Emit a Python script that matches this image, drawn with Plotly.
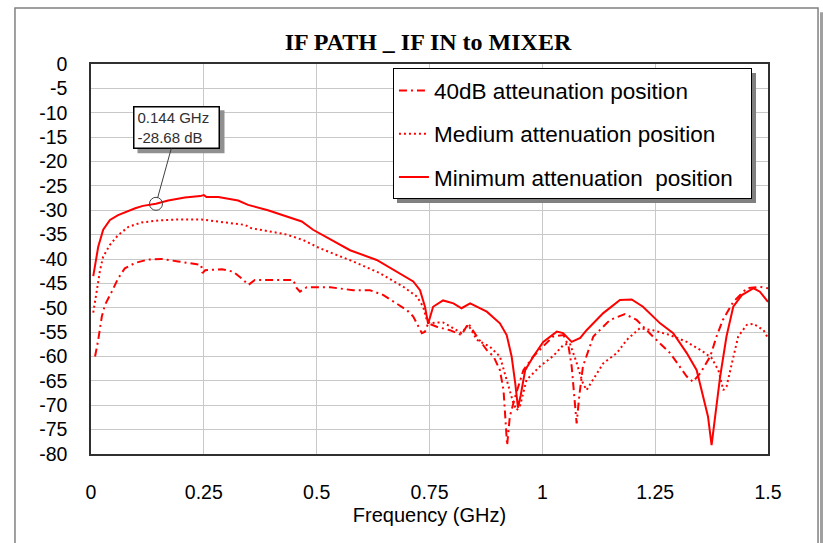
import plotly.graph_objects as go

# Minimum attenuation position (solid)
freq_min = [0.005, 0.009, 0.016, 0.027, 0.042, 0.06, 0.08, 0.098, 0.115, 0.134, 0.144, 0.171,
            0.208, 0.242, 0.25, 0.256, 0.282, 0.326, 0.348, 0.392, 0.43, 0.467, 0.492, 0.525,
            0.574, 0.633, 0.692, 0.714, 0.729, 0.74, 0.747, 0.758, 0.78, 0.803, 0.821, 0.84,
            0.877, 0.906, 0.921, 0.932, 0.94, 0.946, 0.952, 0.962, 0.98, 1.002, 1.032, 1.046,
            1.065, 1.084, 1.098, 1.135, 1.172, 1.198, 1.223, 1.261, 1.29, 1.32, 1.342, 1.356,
            1.367, 1.375, 1.383, 1.394, 1.408, 1.423, 1.442, 1.468, 1.482, 1.5]
db_min = [-43.5, -41.0, -37.5, -34.0, -32.0, -31.0, -30.2, -29.6, -29.1, -28.8, -28.68, -28.0,
          -27.4, -27.1, -26.9, -27.3, -27.3, -28.0, -28.9, -30.0, -31.2, -32.3, -34.0, -35.7,
          -38.2, -40.2, -43.3, -44.6, -46.4, -49.8, -53.3, -49.8, -48.5, -49.1, -50.1, -49.1,
          -50.8, -53.2, -55.6, -60.0, -65.5, -70.5, -68.0, -62.8, -60.0, -57.0, -54.9, -55.2,
          -57.0, -56.2, -54.6, -51.1, -48.4, -48.3, -49.8, -53.2, -55.2, -59.3, -62.8, -68.2,
          -72.3, -78.2, -72.3, -64.1, -55.9, -49.8, -47.4, -46.0, -46.7, -48.8]

# Medium attenuation position (dotted)
freq_med = [0.005, 0.009, 0.013, 0.02, 0.027, 0.042, 0.06, 0.083, 0.112, 0.149, 0.193, 0.245,
            0.297, 0.341, 0.356, 0.397, 0.43, 0.47, 0.507, 0.545, 0.581, 0.64, 0.692, 0.722,
            0.736, 0.744, 0.751, 0.766, 0.78, 0.803, 0.821, 0.836, 0.855, 0.884, 0.906, 0.921,
            0.936, 0.943, 0.95, 0.965, 0.995, 1.024, 1.047, 1.061, 1.075, 1.09, 1.098, 1.135,
            1.165, 1.187, 1.216, 1.245, 1.283, 1.32, 1.356, 1.375, 1.39, 1.401, 1.408, 1.42,
            1.434, 1.453, 1.468, 1.49, 1.5]
db_med = [-51.0, -49.0, -46.4, -42.3, -39.5, -37.1, -35.1, -33.4, -32.5, -32.1, -31.9, -31.9,
          -32.5, -33.0, -33.7, -34.4, -34.9, -36.1, -37.8, -39.2, -40.5, -42.9, -45.7, -47.7,
          -49.8, -52.5, -53.2, -53.0, -53.0, -54.2, -55.2, -53.5, -56.6, -58.0, -60.0, -64.8,
          -69.6, -71.0, -70.3, -64.8, -62.0, -59.9, -57.6, -57.3, -61.0, -65.5, -66.9, -61.4,
          -59.3, -56.6, -54.2, -54.6, -55.6, -57.0, -59.0, -60.3, -62.8, -66.9, -66.2, -61.4,
          -55.9, -53.5, -53.3, -54.6, -56.2]

# 40dB atteunation position (dash-dot)
freq_40 = [0.009, 0.016, 0.024, 0.031, 0.046, 0.06, 0.075, 0.098, 0.127, 0.157, 0.193, 0.23,
           0.244, 0.247, 0.253, 0.29, 0.315, 0.334, 0.349, 0.363, 0.43, 0.448, 0.456, 0.463,
           0.478, 0.53, 0.581, 0.618, 0.648, 0.677, 0.7, 0.714, 0.725, 0.733, 0.74, 0.747,
           0.766, 0.795, 0.821, 0.836, 0.855, 0.877, 0.892, 0.906, 0.914, 0.917, 0.921, 0.922,
           0.928, 0.94, 0.958, 0.98, 1.002, 1.024, 1.047, 1.058, 1.065, 1.072, 1.076, 1.082,
           1.09, 1.113, 1.15, 1.183, 1.209, 1.245, 1.283, 1.32, 1.334, 1.35, 1.372, 1.386,
           1.4, 1.423, 1.453, 1.482, 1.5]
db_40 = [-60.0, -56.6, -51.8, -49.4, -46.7, -44.0, -41.9, -40.8, -40.1, -40.0, -40.5, -40.9,
         -41.2, -42.9, -42.3, -42.1, -42.6, -44.0, -45.3, -44.3, -44.3, -44.3, -46.0, -46.7,
         -45.8, -45.8, -46.4, -46.4, -47.4, -49.1, -50.5, -51.8, -53.9, -55.2, -54.9, -53.2,
         -53.9, -54.6, -55.6, -53.2, -55.9, -58.7, -60.0, -62.8, -66.9, -71.0, -75.8, -78.2,
         -72.3, -68.2, -62.8, -60.0, -57.9, -55.9, -55.6, -57.9, -62.0, -69.6, -73.7, -68.0,
         -62.0, -55.9, -52.5, -51.3, -52.5, -55.9, -59.3, -64.1, -65.2, -63.4, -60.0, -55.9,
         -52.5, -48.8, -46.0, -45.7, -46.0]

x_ticks = [0, 0.25, 0.5, 0.75, 1, 1.25, 1.5]
x_tick_text = ['0', '0.25', '0.5', '0.75', '1', '1.25', '1.5']
y_ticks = list(range(0, -85, -5))
y_tick_text = [str(v) for v in y_ticks]

marker_f = 0.144
marker_db = -28.68

RED = '#ff0000'
SANS = 'Arial, Liberation Sans, sans-serif'

fig = go.Figure()

fig.add_trace(go.Scatter(
    x=freq_40, y=db_40, mode='lines',
    name='40dB atteunation position', legendgroup='a',
    line=dict(color=RED, width=2, dash='8px,4px,2px,4px')
))
fig.add_trace(go.Scatter(
    x=freq_med, y=db_med, mode='lines',
    name='Medium attenuation position', legendgroup='b',
    line=dict(color=RED, width=2, dash='2px,3px')
))
fig.add_trace(go.Scatter(
    x=freq_min, y=db_min, mode='lines',
    name='Minimum attenuation\u00a0 position\u00a0\u00a0', legendgroup='c',
    line=dict(color=RED, width=2)
))
fig.add_trace(go.Scatter(
    x=[marker_f], y=[marker_db], mode='markers', showlegend=False,
    marker=dict(symbol='circle-open', size=13, color='#404040', line=dict(width=1))
))

fig.add_annotation(
    x=marker_f, y=marker_db,
    text='0.144 GHz<br>-28.68 dB',
    showarrow=True, arrowhead=0, arrowwidth=1, arrowcolor='#404040',
    ax=21, ay=-76, standoff=6,
    bordercolor='black', borderwidth=1.5, borderpad=3, bgcolor='white',
    width=78, height=34, align='left',
    font=dict(family=SANS, size=15, color='#303030')
)

shapes = [
    # outer chart frame
    dict(type='rect', xref='paper', yref='paper', x0=-0.1123, x1=1.0739, y0=-0.3, y1=1.1436,
         line=dict(color='#808080', width=1.5)),
    # frame shadow
    dict(type='rect', xref='paper', yref='paper', x0=1.0768, x1=1.085, y0=-0.3, y1=1.133,
         fillcolor='#a0a0a0', line=dict(width=0)),
    # legend shadow
    dict(type='rect', xref='paper', yref='paper', x0=0.452, x1=0.9823, y0=0.6436, y1=0.977,
         fillcolor='#808080', line=dict(width=0), layer='above'),
    # marker label shadow
    dict(type='rect', xref='x', yref='y', xsizemode='pixel', ysizemode='pixel',
         xanchor=marker_f, yanchor=marker_db, x0=-18.5, x1=68.5, y0=50.5, y1=93.5,
         fillcolor='#909090', line=dict(width=0), layer='above'),
]

fig.update_layout(
    width=823, height=543,
    margin=dict(l=91, r=55, t=64, b=89),
    paper_bgcolor='white', plot_bgcolor='white',
    title=dict(text='<b>IF PATH _ IF IN to MIXER</b>',
               font=dict(family='Liberation Serif, Times New Roman, serif', size=24, color='black'),
               x=0.52, xref='container', y=0.923, yref='container',
               xanchor='center', yanchor='middle'),
    xaxis=dict(range=[0, 1.5], tickvals=x_ticks, ticktext=x_tick_text,
               showgrid=True, gridcolor='#c8c8c8', gridwidth=1, zeroline=False,
               showline=True, linecolor='#303030', linewidth=1.5, mirror=True,
               ticks='', ticklabelstandoff=20,
               tickfont=dict(family=SANS, size=19.5, color='black'),
               title=dict(text='Frequency (GHz)', standoff=6,
                          font=dict(family=SANS, size=20, color='black'))),
    yaxis=dict(range=[-80, 0], tickvals=y_ticks, ticktext=y_tick_text,
               showgrid=True, gridcolor='#c8c8c8', gridwidth=1, zeroline=False,
               showline=True, linecolor='#303030', linewidth=1.5, mirror=True,
               ticks='', ticklabelstandoff=18,
               tickfont=dict(family=SANS, size=19.5, color='black')),
    legend=dict(x=0.446, y=0.989, xanchor='left', yanchor='top',
                bordercolor='black', borderwidth=1, bgcolor='white',
                tracegroupgap=11, itemwidth=30,
                font=dict(family=SANS, size=22.5, color='black')),
    shapes=shapes,
    showlegend=True,
)

fig.write_html("out.html", config={'displayModeBar': False},
               post_script="document.body.style.margin='0px';")
